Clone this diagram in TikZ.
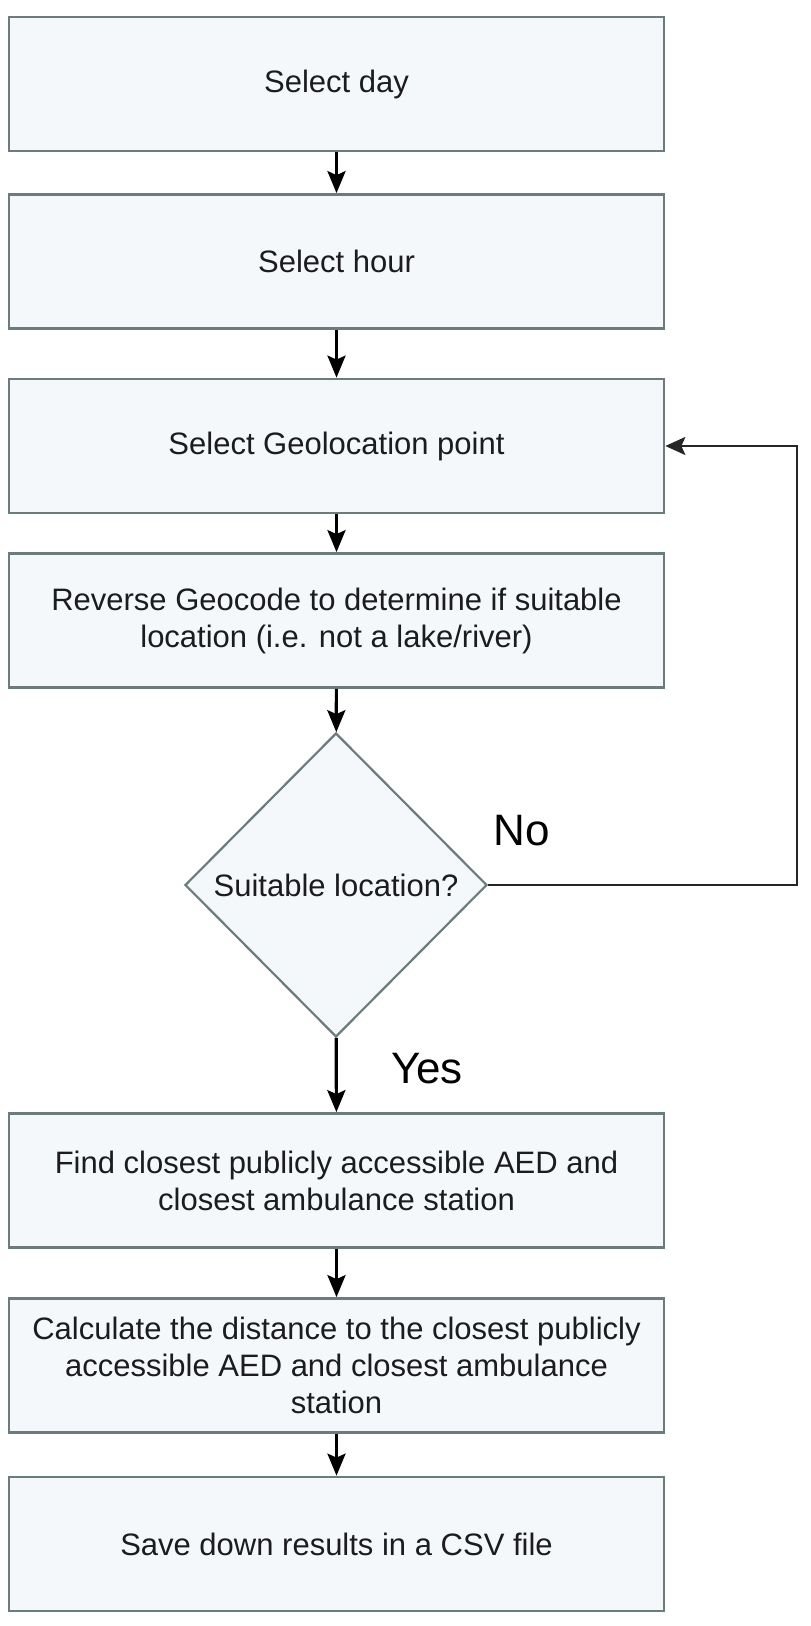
\documentclass[tikz,border=0pt]{standalone}
\usepackage{fontspec}
\setmainfont{Liberation Sans}
\usetikzlibrary{arrows.meta,shapes.geometric}
\definecolor{boxfill}{RGB}{245,248,250}
\definecolor{boxline}{RGB}{108,124,125}
\definecolor{txt}{RGB}{28,28,32}
\begin{document}
\begin{tikzpicture}[x=0.5pt,y=-0.5pt,
  stepbox/.style={rectangle,draw=boxline,fill=boxfill,line width=1.35pt,
    minimum width=327.5pt,minimum height=67pt,inner sep=0pt,align=center,
    text=txt,font=\fontsize{15.5pt}{18.5pt}\selectfont},
  decide/.style={diamond,draw=boxline,fill=boxfill,line width=1.1pt,
    minimum width=151pt,minimum height=152pt,inner sep=0pt,align=center,
    text=txt,font=\fontsize{15.5pt}{18.5pt}\selectfont},
  flow/.style={line width=1.6pt,black,-{Stealth[length=11pt,width=9pt,inset=2pt]}},
  back/.style={line width=1.2pt,black!85,-{Stealth[length=10pt,width=9pt,inset=2pt]}},
  biglabel/.style={text=black,font=\fontsize{22pt}{26pt}\selectfont,inner sep=0pt}]
\useasboundingbox (0,0) rectangle (810,1626);
\fill[white] (0,0) rectangle (810,1626);
\node[stepbox] (b1) at (336.5,84) {Select day};
\node[stepbox] (b2) at (336.5,261.5) {Select hour};
\node[stepbox] (b3) at (336.5,446) {Select Geolocation point};
\node[stepbox] (b4) at (336.5,620.5) {Reverse Geocode to determine if suitable\\location (i.e. not a lake/river)};
\node[decide] (d) at (336,885) {Suitable location?};
\node[stepbox] (b5) at (336.5,1180.5) {Find closest publicly accessible AED and\\closest ambulance station};
\node[stepbox] (b6) at (336.5,1365.5) {Calculate the distance to the closest publicly\\accessible AED and closest ambulance\\station};
\node[stepbox] (b7) at (336.5,1544) {Save down results in a CSV file};
\draw[flow] (b1) -- (b2);
\draw[flow] (b2) -- (b3);
\draw[flow] (b3) -- (b4);
\draw[flow] (b4) -- (d);
\draw[flow] (d) -- (b5);
\draw[flow] (b5) -- (b6);
\draw[flow] (b6) -- (b7);
\coordinate (c1) at (797,885);
\coordinate (c2) at (797,446);
\draw[back] (d.east) -- (c1) -- (c2) -- (b3.east);
\node[biglabel] (no) at (522,831) {No};
\node[biglabel] (yes) at (427,1069) {Yes};
\end{tikzpicture}
\end{document}
